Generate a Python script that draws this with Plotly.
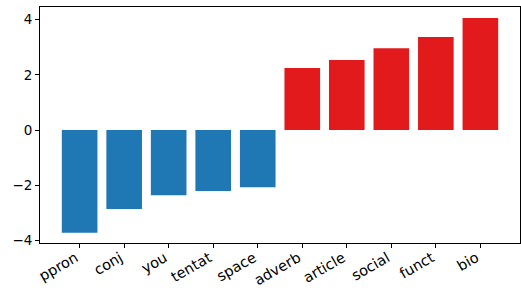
import plotly.graph_objects as go

categories = ["ppron", "conj", "you", "tentat", "space", "adverb", "article", "social", "funct", "bio"]
values = [-3.72, -2.86, -2.36, -2.21, -2.07, 2.25, 2.54, 2.97, 3.37, 4.06]
y_ticks = [-4, -2, 0, 2, 4]

colors = ["#1f77b4" if v < 0 else "#e31a1c" for v in values]

fig = go.Figure(go.Bar(x=categories, y=values, marker=dict(color=colors, line=dict(width=0)), width=0.8))

axis_common = dict(showline=True, linecolor="black", linewidth=1, mirror=True,
                   ticks="outside", ticklen=4, tickcolor="black", tickwidth=1,
                   showgrid=False, zeroline=False, automargin=False)

fig.update_layout(
    width=521, height=292,
    margin=dict(l=40, r=1, t=7, b=49),
    plot_bgcolor="white", paper_bgcolor="white",
    showlegend=False,
    xaxis=dict(range=[-0.89, 9.89], tickangle=-30, ticklabelshift=-4, ticklabelstandoff=-4,
               tickfont=dict(family="DejaVu Sans", size=14.5, color="black"), **axis_common),
    yaxis=dict(range=[-4.09, 4.46], tickvals=y_ticks,
               tickfont=dict(family="DejaVu Sans", size=13.5, color="black"), **axis_common),
)

fig.write_html("out.html", config={"displayModeBar": False},
               post_script="document.body.style.margin='0';document.body.style.overflow='hidden';")
